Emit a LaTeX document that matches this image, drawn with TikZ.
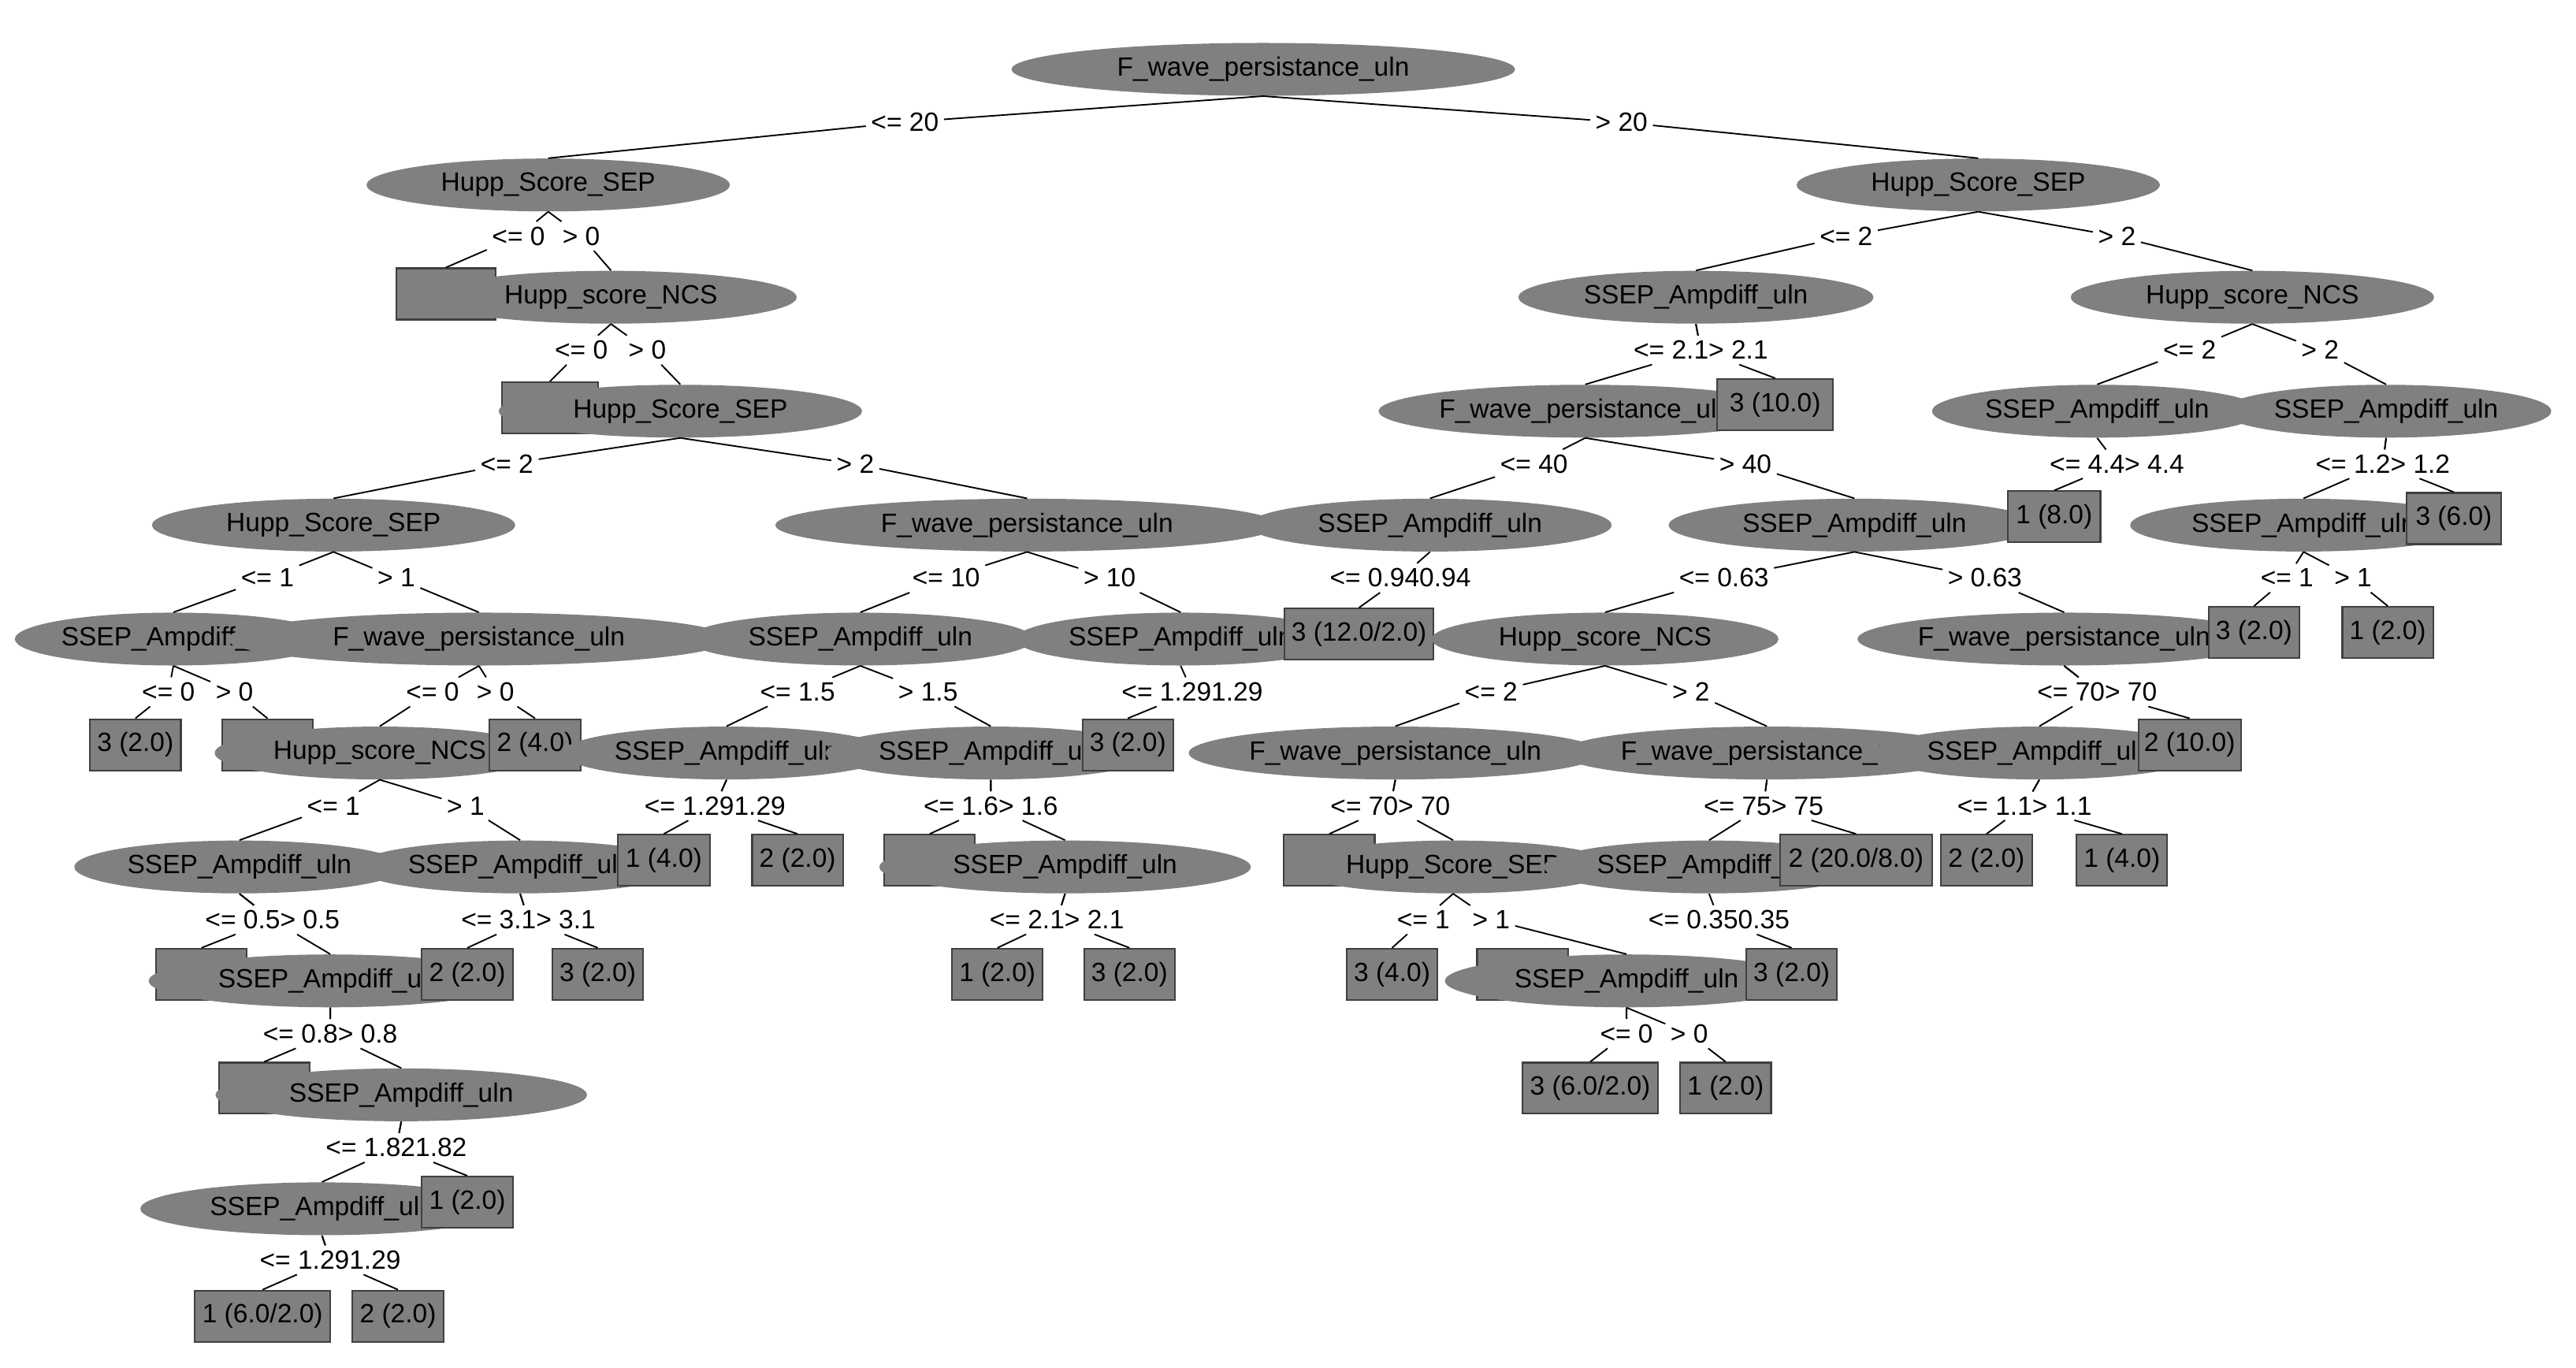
\documentclass[tikz,border=0pt]{standalone}
\usepackage{fontspec}
\setmainfont{Liberation Sans}
\usetikzlibrary{shapes.geometric}
\definecolor{ng}{HTML}{808080}
\definecolor{nd}{HTML}{404040}
\tikzset{
 ell/.style={ellipse,fill=ng,minimum height=32pt,inner sep=0pt,font=\fontsize{16}{17}\selectfont},
 leaf/.style={rectangle,fill=ng,draw=nd,line width=1pt,minimum height=31pt,inner sep=0pt,font=\fontsize{16}{17}\selectfont},
 lab/.style={inner sep=3pt,font=\fontsize{16}{17}\selectfont},
 edge/.style={draw=black,line width=0.9pt}
}
\newcommand\edg[3]{\draw[edge] (#1.south) -- (#2) -- (#3.north);}
\begin{document}
\begin{tikzpicture}[x=1pt,y=-1pt]
\useasboundingbox[fill=white] (0,0) rectangle (1560,828);
% row 0
\node[ell,minimum width=305pt] (n0) at (765,42) {F\_wave\_persistance\_uln};
% row 1
\node[ell,minimum width=220pt] (a1) at (332,112) {Hupp\_Score\_SEP};
\node[ell,minimum width=220pt] (b1) at (1198,112) {Hupp\_Score\_SEP};
% row 2
\node[leaf,minimum width=60pt] (c1) at (270,178) {};
\node[ell,minimum width=225pt] (c2) at (370,180) {Hupp\_score\_NCS};
\node[ell,minimum width=215pt] (c3) at (1027,180) {SSEP\_Ampdiff\_uln};
\node[ell,minimum width=220pt] (c4) at (1364,180) {Hupp\_score\_NCS};
% row 3
\node[leaf,minimum width=58pt] (d1) at (333,247) {};
\node[ell,minimum width=220pt] (d2) at (412,249) {Hupp\_Score\_SEP};
\node[ell,minimum width=240pt] (d3) at (960,249) {F\_wave\_persistance\_uln};
\node[leaf,minimum width=70pt] (d4) at (1075,245) {3 (10.0)};
\node[ell,minimum width=200pt] (d5) at (1270,249) {SSEP\_Ampdiff\_uln};
\node[ell,minimum width=200pt] (d6) at (1445,249) {SSEP\_Ampdiff\_uln};
% row 4
\node[ell,minimum width=220pt] (e1) at (202,318) {Hupp\_Score\_SEP};
\node[ell,minimum width=305pt] (e2) at (622,318) {F\_wave\_persistance\_uln};
\node[ell,minimum width=220pt] (e3) at (866,318) {SSEP\_Ampdiff\_uln};
\node[ell,minimum width=225pt] (e4) at (1123,318) {SSEP\_Ampdiff\_uln};
\node[leaf,minimum width=56pt] (e6) at (1244,313) {1 (8.0)};
\node[ell,minimum width=210pt] (e7) at (1395,318) {SSEP\_Ampdiff\_uln};
\node[leaf,minimum width=57pt] (e8) at (1486,314) {3 (6.0)};
% row 5
\node[ell,minimum width=175pt] (f1) at (105,387) {SSEP\_Ampdiff\_uln};
\node[ell,minimum width=305pt] (f2) at (290,387) {F\_wave\_persistance\_uln};
\node[ell,minimum width=210pt] (f3) at (521,387) {SSEP\_Ampdiff\_uln};
\node[ell,minimum width=200pt] (f4) at (715,387) {SSEP\_Ampdiff\_uln};
\node[leaf,minimum width=90pt] (f5) at (823,384) {3 (12.0/2.0)};
\node[ell,minimum width=210pt] (f6) at (972,387) {Hupp\_score\_NCS};
\node[ell,minimum width=230pt] (f7) at (1250,387) {F\_wave\_persistance\_uln};
\node[leaf,minimum width=55pt] (f8) at (1365,383) {3 (2.0)};
\node[leaf,minimum width=55pt] (f9) at (1446,383) {1 (2.0)};
% row 6
\node[leaf,minimum width=55pt] (g1) at (82,451) {3 (2.0)};
\node[leaf,minimum width=55pt] (g2) at (162,451) {};
\node[ell,minimum width=200pt] (g3) at (230,456) {Hupp\_score\_NCS};
\node[leaf,minimum width=55pt] (g4) at (324,451) {2 (4.0)};
\node[ell,minimum width=200pt] (g5) at (440,456) {SSEP\_Ampdiff\_uln};
\node[ell,minimum width=200pt] (g6) at (600,456) {SSEP\_Ampdiff\_uln};
\node[leaf,minimum width=55pt] (g7) at (683,451) {3 (2.0)};
\node[ell,minimum width=230pt] (g8) at (845,456) {F\_wave\_persistance\_uln};
\node[ell,minimum width=230pt] (g9) at (1070,456) {F\_wave\_persistance\_uln};
\node[ell,minimum width=200pt] (g10) at (1235,456) {SSEP\_Ampdiff\_uln};
\node[leaf,minimum width=62pt] (g11) at (1326,451) {2 (10.0)};
% row 7
\node[ell,minimum width=200pt] (h1) at (145,525) {SSEP\_Ampdiff\_uln};
\node[ell,minimum width=200pt] (h2) at (315,525) {SSEP\_Ampdiff\_uln};
\node[leaf,minimum width=56pt] (h3) at (402,521) {1 (4.0)};
\node[leaf,minimum width=55pt] (h4) at (483,521) {2 (2.0)};
\node[leaf,minimum width=55pt] (h5) at (563,521) {};
\node[ell,minimum width=225pt] (h6) at (645,525) {SSEP\_Ampdiff\_uln};
\node[leaf,minimum width=55pt] (h7) at (805,521) {};
\node[ell,minimum width=200pt] (h8) at (880,525) {Hupp\_Score\_SEP};
\node[ell,minimum width=200pt] (h9) at (1035,525) {SSEP\_Ampdiff\_uln};
\node[leaf,minimum width=92pt] (h10) at (1124,521) {2 (20.0/8.0)};
\node[leaf,minimum width=55pt] (h11) at (1203,521) {2 (2.0)};
\node[leaf,minimum width=55pt] (h12) at (1285,521) {1 (4.0)};
% row 8
\node[leaf,minimum width=55pt] (i0) at (122,590) {};
\node[ell,minimum width=220pt] (i1) at (200,594) {SSEP\_Ampdiff\_uln};
\node[leaf,minimum width=55pt] (i2) at (283,590) {2 (2.0)};
\node[leaf,minimum width=55pt] (i3) at (362,590) {3 (2.0)};
\node[leaf,minimum width=55pt] (i4) at (604,590) {1 (2.0)};
\node[leaf,minimum width=55pt] (i5) at (684,590) {3 (2.0)};
\node[leaf,minimum width=55pt] (i6) at (843,590) {3 (4.0)};
\node[leaf,minimum width=55pt] (i6b) at (922,590) {};
\node[ell,minimum width=220pt] (i7) at (985,594) {SSEP\_Ampdiff\_uln};
\node[leaf,minimum width=55pt] (i9) at (1085,590) {3 (2.0)};
% row 9
\node[leaf,minimum width=55pt] (j0) at (160,659) {};
\node[ell,minimum width=225pt] (j1) at (243,663) {SSEP\_Ampdiff\_uln};
\node[leaf,minimum width=82pt] (j2) at (963,659) {3 (6.0/2.0)};
\node[leaf,minimum width=55pt] (j3) at (1045,659) {1 (2.0)};
% row 10
\node[ell,minimum width=220pt] (k1) at (195,732) {SSEP\_Ampdiff\_uln};
\node[leaf,minimum width=55pt] (k2) at (283,728) {1 (2.0)};
% row 11
\node[leaf,minimum width=82pt] (m1) at (159,797) {1 (6.0/2.0)};
\node[leaf,minimum width=55pt] (m2) at (241,797) {2 (2.0)};
% labels
\node[lab] (la) at (548,74) {<= 20};
\node[lab] (lb) at (982,74) {> 20};
\node[lab] (l1a) at (314,143) {<= 0};
\node[lab] (l1b) at (352,143) {> 0};
\node[lab] (l2a) at (1118,143) {<= 2};
\node[lab] (l2b) at (1282,143) {> 2};
\node[lab] (l3a) at (352,212) {<= 0};
\node[lab] (l3b) at (392,212) {> 0};
\node[lab] (l4) at (1030,212) {<= 2.1> 2.1};
\node[lab] (l5a) at (1326,212) {<= 2};
\node[lab] (l5b) at (1405,212) {> 2};
\node[lab] (l6a) at (307,281) {<= 2};
\node[lab] (l6b) at (518,281) {> 2};
\node[lab] (l7a) at (929,281) {<= 40};
\node[lab] (l7b) at (1057,281) {> 40};
\node[lab] (l8) at (1282,281) {<= 4.4> 4.4};
\node[lab] (l9) at (1443,281) {<= 1.2> 1.2};
\node[lab] (l10a) at (162,350) {<= 1};
\node[lab] (l10b) at (240,350) {> 1};
\node[lab] (l11a) at (573,350) {<= 10};
\node[lab] (l11b) at (672,350) {> 10};
\node[lab] (l12) at (848,350) {<= 0.940.94};
\node[lab] (l13a) at (1044,350) {<= 0.63};
\node[lab] (l13b) at (1202,350) {> 0.63};
\node[lab] (l9a) at (1385,350) {<= 1};
\node[lab] (l9b) at (1425,350) {> 1};
\node[lab] (l14a) at (102,419) {<= 0};
\node[lab] (l14b) at (142,419) {> 0};
\node[lab] (l15a) at (262,419) {<= 0};
\node[lab] (l15b) at (300,419) {> 0};
\node[lab] (l16a) at (483,419) {<= 1.5};
\node[lab] (l16b) at (562,419) {> 1.5};
\node[lab] (l17) at (722,419) {<= 1.291.29};
\node[lab] (l18a) at (903,419) {<= 2};
\node[lab] (l18b) at (1024,419) {> 2};
\node[lab] (l19) at (1270,419) {<= 70> 70};
\node[lab] (l20a) at (202,488) {<= 1};
\node[lab] (l20b) at (282,488) {> 1};
\node[lab] (l21) at (433,488) {<= 1.291.29};
\node[lab] (l22) at (600,488) {<= 1.6> 1.6};
\node[lab] (l23) at (842,488) {<= 70> 70};
\node[lab] (l24) at (1068,488) {<= 75> 75};
\node[lab] (l25) at (1226,488) {<= 1.1> 1.1};
\node[lab] (l26) at (165,557) {<= 0.5> 0.5};
\node[lab] (l27) at (320,557) {<= 3.1> 3.1};
\node[lab] (l28) at (640,557) {<= 2.1> 2.1};
\node[lab] (l29a) at (862,557) {<= 1};
\node[lab] (l29b) at (903,557) {> 1};
\node[lab] (l30) at (1041,557) {<= 0.350.35};
\node[lab] (l31) at (200,626) {<= 0.8> 0.8};
\node[lab] (l32a) at (985,626) {<= 0};
\node[lab] (l32b) at (1023,626) {> 0};
\node[lab] (l33) at (240,695) {<= 1.821.82};
\node[lab] (l34) at (200,763) {<= 1.291.29};
% edges
\edg{n0}{la}{a1} \edg{n0}{lb}{b1}
\edg{a1}{l1a}{c1} \edg{a1}{l1b}{c2}
\edg{b1}{l2a}{c3} \edg{b1}{l2b}{c4}
\edg{c2}{l3a}{d1} \edg{c2}{l3b}{d2}
\edg{c3}{l4}{d3} \edg{c3}{l4}{d4}
\edg{c4}{l5a}{d5} \edg{c4}{l5b}{d6}
\edg{d2}{l6a}{e1} \edg{d2}{l6b}{e2}
\edg{d3}{l7a}{e3} \edg{d3}{l7b}{e4}
\edg{d5}{l8}{e6}
\edg{d6}{l9}{e7} \edg{d6}{l9}{e8}
\edg{e1}{l10a}{f1} \edg{e1}{l10b}{f2}
\edg{e2}{l11a}{f3} \edg{e2}{l11b}{f4}
\edg{e3}{l12}{f5}
\edg{e4}{l13a}{f6} \edg{e4}{l13b}{f7}
\edg{e7}{l9a}{f8} \edg{e7}{l9b}{f9}
\edg{f1}{l14a}{g1} \edg{f1}{l14b}{g2}
\edg{f2}{l15a}{g3} \edg{f2}{l15b}{g4}
\edg{f3}{l16a}{g5} \edg{f3}{l16b}{g6}
\edg{f4}{l17}{g7}
\edg{f6}{l18a}{g8} \edg{f6}{l18b}{g9}
\edg{f7}{l19}{g10} \edg{f7}{l19}{g11}
\edg{g3}{l20a}{h1} \edg{g3}{l20b}{h2}
\edg{g5}{l21}{h3} \edg{g5}{l21}{h4}
\edg{g6}{l22}{h5} \edg{g6}{l22}{h6}
\edg{g8}{l23}{h7} \edg{g8}{l23}{h8}
\edg{g9}{l24}{h9} \edg{g9}{l24}{h10}
\edg{g10}{l25}{h11} \edg{g10}{l25}{h12}
\edg{h1}{l26}{i0} \edg{h1}{l26}{i1}
\edg{h2}{l27}{i2} \edg{h2}{l27}{i3}
\edg{h6}{l28}{i4} \edg{h6}{l28}{i5}
\edg{h8}{l29a}{i6} \edg{h8}{l29b}{i7}
\edg{h9}{l30}{i9}
\edg{i1}{l31}{j0} \edg{i1}{l31}{j1}
\edg{i7}{l32a}{j2} \edg{i7}{l32b}{j3}
\edg{j1}{l33}{k1} \edg{j1}{l33}{k2}
\edg{k1}{l34}{m1} \edg{k1}{l34}{m2}
\end{tikzpicture}
\end{document}
